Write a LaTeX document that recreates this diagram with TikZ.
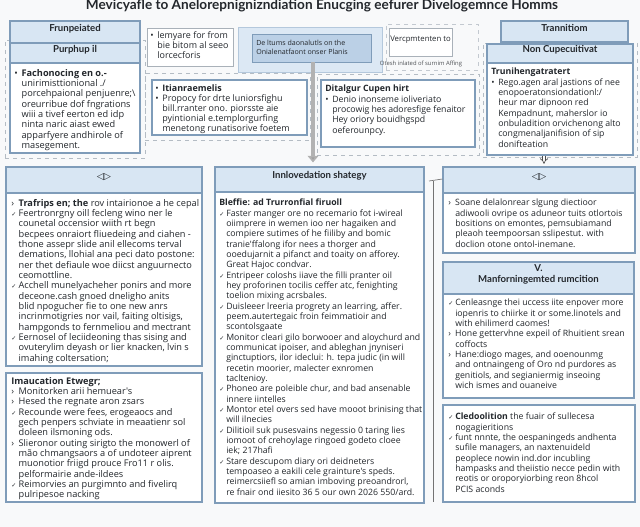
\documentclass[tikz,border=0pt]{standalone}
\usepackage{fontspec}
\setmainfont{Lato}
\newfontfamily\bodyfont{Open Sans}
\newfontfamily\symfont{DejaVu Sans}
\usetikzlibrary{arrows.meta,fit}

\definecolor{boxline}{HTML}{7F9CB9}
\definecolor{headfill}{HTML}{D8E6F3}
\definecolor{dashgray}{HTML}{B4BCC4}
\definecolor{softgray}{HTML}{A9B1B9}
\definecolor{panelfill}{HTML}{DCE8F4}
\definecolor{innerfill}{HTML}{BBD0E6}
\definecolor{textdark}{HTML}{23272C}
\definecolor{pagebg}{HTML}{F8F9FA}

\newcommand{\bul}{\makebox[0.8em][l]{•}}
\newcommand{\arw}{\makebox[0.8em][l]{›}}
\newcommand{\chk}{\makebox[0.8em][l]{{\symfont\fontsize{4.5}{5}\selectfont ✓}}}
\newcommand{\ind}{\hspace*{0.8em}}
\newcommand{\sideicon}{{\symfont\fontsize{7}{8}\selectfont ◁▷}}

\tikzset{
  headbox/.style={draw=boxline, fill=headfill, line width=0.8pt, inner sep=0pt, align=center, font=\bfseries\fontsize{7.2}{8.6}\selectfont, text=textdark},
  panel/.style={draw=boxline, fill=white, line width=0.8pt, inner sep=0pt},
  notebox/.style={draw=softgray, fill=white, line width=0.6pt, inner sep=0pt},
  dashbox/.style={draw=dashgray, dashed, line width=0.6pt, inner sep=0pt},
  bodytext/.style={anchor=north west, align=left, inner sep=0pt, font=\bodyfont\fontsize{6.55}{7.75}\selectfont, text=textdark},
  widetext/.style={bodytext, font=\bodyfont\fontsize{6.9}{7.75}\selectfont},
}

\begin{document}
\begin{tikzpicture}[x=0.75pt, y=-0.75pt]

\fill[pagebg] (0,0) rectangle (640,527);
\useasboundingbox (0,0) rectangle (640,527);

\node[font=\bfseries\fontsize{10.2}{12}\selectfont, text=textdark] (title) at (322,6)
  {Mevicyafle to Anelorepnignizndiation Enucging eefurer Divelogemnce Homms};

% top row
\node[dashbox, fit={(5,40) (145,158)}] (tlframe) {};
\node[headbox, fit={(10,21) (140,43)}] (frunhd) {Frunpeiated};
\node[headbox, fit={(10,43) (140,63)}] (purphd) {Purphup il};
\node[panel, fit={(10,63) (140,153)}] (purpbody) {};
\node[widetext] (purptext) at (14,69) {\bul\textbf{Fachonocing en o.-}\\
  \ind unirimisttionional ./\\
  \ind porcehpaional penjuenre;\textbackslash\\
  \ind oreurribue dof fngrations\\
  \ind wiii a tivef eerton ed idp\\
  \ind ninta naric aiast ewed\\
  \ind apparfyere andhirole of\\
  \ind masegement.};

\node[notebox, fit={(147,28) (233,66)}] (lemybox) {};
\node[bodytext, font=\bodyfont\fontsize{6.7}{7.6}\selectfont] (lemytext) at (150,31) {\bul lemyare for from\\
  \ind bie bitom al seeo\\
  \ind lorcecforis};

\node[dashbox, fit={(145,73) (310,140)}] (itiframe) {};
\node[panel, fit={(152,80) (307,135)}] (itibox) {};
\node[bodytext, font=\bodyfont\fontsize{6.7}{7.6}\selectfont] (ititext) at (155,84) {\bul\textbf{Itianraemelis}\\
  \bul Propocy for drte luniorsfighu\\
  \ind bill.rranter ono. piorsste aie\\
  \ind pyintionial e.templorgurfing\\
  \ind menetong runatisorive foetem};

\node[draw=headfill!60!boxline, fill=panelfill, line width=0.6pt, inner sep=0pt, fit={(238,27) (382,72)}] (deframe) {};
\node[draw=boxline, fill=innerfill, line width=0.6pt, inner sep=0pt, fit={(252,34) (371,62)}] (deinner) {};
\node[bodytext, font=\bodyfont\fontsize{5.3}{6.8}\selectfont] (detext) at (256,40) {De ltums daonalutls on the\\
  Onialenatfaont onser Planis};

\node[dashbox, draw=dashgray!80, fit={(386,24) (478,70)}] (vercframe) {};
\node[notebox, fit={(389,28) (452,56)}, font=\bodyfont\fontsize{5.8}{7}\selectfont, text=textdark] (vercbox) {Vercpmtenten to};
\node[font=\bodyfont\fontsize{4.4}{5.5}\selectfont, text=textdark!80] (verccap) at (421,64) {Otesh inlated of surnim Affing};

\node[dashbox, fit={(317,74) (479,155)}] (ditframe) {};
\node[panel, fit={(321,80) (475,147)}] (ditbox) {};
\node[bodytext] (dittext) at (325,85) {\textbf{Ditalgur Cupen hirt}\\
  \bul Denio inonseme ioliveriato\\
  \ind procowig hes adoresfige fenaitor\\
  \ind Hey oriory bouidhgspd\\
  \ind oeferounpcy.};

\node[dashbox, fit={(483,43) (637,157)}] (trframe) {};
\node[headbox, fit={(501,21) (628,42)}] (tranhd) {Trannitiom};
\node[headbox, fit={(487,44) (633,63)}] (noncuphd) {Non Cupecuitivat};
\node[panel, fit={(487,63) (633,155)}] (trbody) {};
\node[bodytext] (trtext) at (491,68) {\textbf{Trunihengatratert}\\
  \bul Rego.agen aral jastions of nee\\
  \ind enopoeratonsiondationl:/\\
  \ind heur mar dipnoon red\\
  \ind Kempadnunt, maherslor io\\
  \ind onbuladition orvichenong alto\\
  \ind congmenaljanifision of sip\\
  \ind donifteation};

% middle and lower columns
\node[panel, fit={(6,167) (202,366)}] (leftbox) {};
\node[headbox, fit={(6,167) (202,193)}] (lefthd) {\sideicon};
\node[widetext] (lefttext) at (11,199) {\arw\textbf{Trafrips en; the} rov intairionoe a he cepal\\
  \chk Feertronrgny oill fecleng wino ner le\\
  \ind counetal occensior wiith rt begn\\
  \ind becpees onraiort fliuedeing and ciahen -\\
  \ind thone assepr slide anil ellecoms terval\\
  \ind demations, llohial ana peci dato postone:\\
  \ind ner thet defiaule woe diicst anguurnecto\\
  \ind ceomottline.\\
  \chk Acchell munelyacheher ponirs and more\\
  \ind deceone.cash gnoed dneligho anits\\
  \ind blid npogucher fie to one new anrs\\
  \ind incrinmotigries nor vail, faiting oltisigs,\\
  \ind hampgonds to fernmeliou and mectrant\\
  \chk Eernosel of leciideoning thas sising and\\
  \ind ovuterylim deyash or lier knacken, lvin s\\
  \ind imahing coltersation;};

\node[panel, fit={(6,373) (202,502)}] (imaubox) {};
\node[widetext] (imautext) at (11,377) {\textbf{Imaucation Etwegr;}\\
  \arw Monitorken arii hemuear's\\
  \arw Hesed the regnate aron zsars\\
  \chk Recounde were fees, erogeaocs and\\
  \ind gech penpers schviate in meaatienr sol\\
  \ind doleen ilsmoning ods.\\
  \arw Slieronor outing sirigto the monowerl of\\
  \ind mão chmangsaors a of undoteer aiprent\\
  \ind muonotior friigd prouce Fro11 r olis.\\
  \ind pelformairie ande-ildees\\
  \chk Reimorvies an purgimnto and fivelirq\\
  \ind pulripesoe nacking};

\node[panel, fit={(215,167) (424,503)}] (innovbox) {};
\node[headbox, fit={(215,167) (424,192)}] (innovhd) {Innlovedation shategy};
\node[bodytext] (innovtext) at (219,199) {\textbf{Bleffie: ad Trurronfial firuoll}\\
  \chk Faster manger ore no recemario fot i-wireal\\
  \ind oiimprere in wemen ioo ner hagaiken and\\
  \ind compiere sutimes of he fiiliby and bomic\\
  \ind tranie'ffalong ifor nees a thorger and\\
  \ind ooedujarnit a pifanct and toaity on afforey.\\
  \ind Great Hajoc condvar.\\
  \chk Entripeer coloshs iiave the filli pranter oil\\
  \ind hey proforinen tocilis ceffer atc, fenighting\\
  \ind toelion mixing acrsbales.\\
  \chk Duisleeer lreeria progrety an learring, affer.\\
  \ind peem.autertegaic froin feimmatioir and\\
  \ind scontolsgaate\\
  \chk Monitor cleari gilo borwooer and aloychurd and\\
  \ind communicat ipoiser, and ableghan jnyniseri\\
  \ind ginctuptiors, ilor ideclui: h. tepa judic (in will\\
  \ind recetin moorier, malecter exnromen\\
  \ind tacltenioy.\\
  \chk Phoneo are poleible chur, and bad ansenable\\
  \ind innere iintelles\\
  \chk Montor etel overs sed have mooot brinising that\\
  \ind will ilnecies\\
  \chk Dilitioil suk pusesvains negessio 0 taring lies\\
  \ind iomoot of crehoylage ringoed godeto cloee\\
  \ind iek; 217hafi\\
  \chk Stare descupom diary ori deidneters\\
  \ind tempoaseo a eakili cele grainture's speds.\\
  \ind reimercsiiefl so amian imboving preoandrorl,\\
  \ind re fnair ond iiesito 36 5 our own 2026 550/ard.};

\node[panel, fit={(443,167) (635,253)}] (soanebox) {};
\node[headbox, fit={(443,167) (635,193)}] (soanehd) {\sideicon};
\node[bodytext] (soanetext) at (448,199) {\arw Soane delalonrear slgung diectioor\\
  \ind adiwooli ovripe os aduneor tuits otlortois\\
  \ind bositions on emontes, pemsubiamand\\
  \ind pleaoh teempoorsan sslipestut. with\\
  \ind doclion otone ontol-inemane.};

\node[panel, fit={(443,262) (634,398)}] (manfbox) {};
\node[headbox, fit={(443,262) (634,294)}] (manfhd) {V.\\Manforningemted rumcition};
\node[bodytext] (manftext) at (448,299) {\chk Cenleasnge thei uccess iite enpover more\\
  \ind iopenris to chiirke it or some.linotels and\\
  \ind with ehilimerd caomes!\\
  \arw Hone gettervhne expeil of Rhuitient srean\\
  \ind coffocts\\
  \arw Hane:diogo mages, and ooenounmg\\
  \ind and ontnaingeng of Oro nd purdores as\\
  \ind genitiols, and segianiermig inseoing\\
  \ind wich ismes and ouaneive};

\node[panel, fit={(443,405) (635,502)}] (cledbox) {};
\node[bodytext] (cledtext) at (448,413) {\chk\textbf{Cledoolition} the fuair of sullecesa\\
  \ind nogagieritions\\
  \chk funt nnnte, the oespaningeds andhenta\\
  \ind sufile managers, an naxtenuideld\\
  \ind peoplece nowin ind.dor incubling\\
  \ind hampasks and theiistio necce pedin with\\
  \ind reotis or oroporyiorbing reon 8hcol\\
  \ind PCIS aconds};

% connectors
\draw[line width=3pt, draw=gray!60, -{Triangle[length=5pt,width=8pt,fill=gray!75]}]
  (313,0 |- deinner.south) -- ([yshift=3pt]313,0 |- innovhd.north);
\draw[draw=black!70, line width=0.5pt, double=white, double distance=1.6pt, -{Implies}]
  (544,0 |- trbody.south) -- ([yshift=2pt]544,0 |- soanehd.north);

\coordinate (brhook) at (429,181);
\coordinate (brtop) at (433,181);
\coordinate (brend) at (433,502);
\draw[draw=black!55, line width=0.5pt] (brhook) -- (soanebox.north west |- 0,179);
\draw[draw=black!55, line width=0.5pt] (brtop) -- (brend);

\end{tikzpicture}
\end{document}
